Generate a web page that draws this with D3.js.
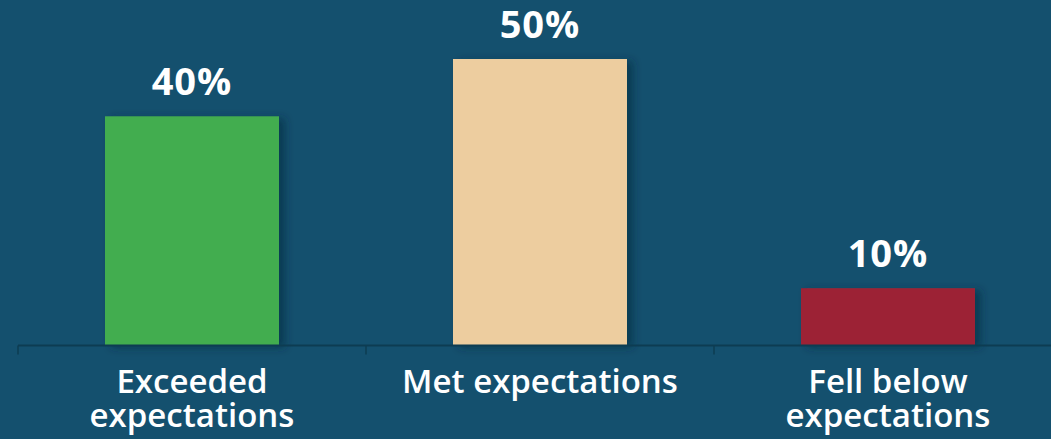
<!DOCTYPE html>
<html><head><meta charset="utf-8">
<script src="https://cdn.jsdelivr.net/npm/d3@7"></script>
<style>html,body{margin:0;padding:0;background:#14506e;overflow:hidden}</style>
</head><body>
<svg id="c" width="1051" height="439"></svg>
<script>
const categories = [["Exceeded","expectations"],["Met expectations"],["Fell below","expectations"]];
const values = [40, 50, 10];
const valueLabels = ["40%", "50%", "10%"];
const colors = ["#43ad4f", "#edcd9f", "#9c2336"];

const svg = d3.select("#c");
const W = 1051, H = 439;
svg.append("rect").attr("width", W).attr("height", H).attr("fill", "#14506e");

const defs = svg.append("defs");
const f = defs.append("filter").attr("id","sh").attr("x","-10%").attr("y","-10%").attr("width","130%").attr("height","130%");
f.append("feDropShadow").attr("dx",6).attr("dy",2).attr("stdDeviation",4).attr("flood-color","#06283a").attr("flood-opacity",0.55);

const idx = d3.range(values.length);
const x = d3.scaleBand().domain(idx).range([18, 1062]).paddingInner(0.5).paddingOuter(0.25);
const y = d3.scaleLinear().domain([0, 50]).range([345.5, 59]);

svg.append("g").selectAll("rect").data(idx).join("rect")
  .attr("x", i => x(i)).attr("width", x.bandwidth())
  .attr("y", i => y(values[i])).attr("height", i => y(0) - y(values[i]))
  .attr("fill", i => colors[i]).attr("filter","url(#sh)");

// axis
const axis = d3.axisBottom(x).tickSize(9).tickFormat("");
const gA = svg.append("g").attr("transform", `translate(0,${y(0)})`).call(axis);
gA.select(".domain").remove();
gA.selectAll(".tick").attr("transform", i => `translate(${x(i) - x.step()*x.paddingInner()/2},0)`);
gA.selectAll(".tick line").attr("stroke", "#0d3c52").attr("stroke-width", 1.5);
gA.append("line").attr("x1", 18).attr("x2", W).attr("y1", 0).attr("y2", 0).attr("stroke", "#0d3c52").attr("stroke-width", 2);

// value labels
svg.append("g").selectAll("text").data(idx).join("text")
  .attr("x", i => x(i) + x.bandwidth()/2).attr("y", i => y(values[i]) - 21)
  .attr("text-anchor","middle").attr("fill","#fff")
  .attr("font-family","'Open Sans', sans-serif").attr("font-weight",700).attr("font-size",38)
  .attr("letter-spacing", 1)
  .text(i => valueLabels[i]);

// category labels
const gC = svg.append("g").selectAll("text").data(idx).join("text")
  .attr("x", i => x(i) + x.bandwidth()/2).attr("y", 393)
  .attr("text-anchor","middle").attr("fill","#fff")
  .attr("font-family","'Open Sans', sans-serif").attr("font-weight",600).attr("font-size",33);
gC.selectAll("tspan").data(i => categories[i].map((t,k)=>({t,k,i}))).join("tspan")
  .attr("x", d => x(d.i) + x.bandwidth()/2).attr("dy", d => d.k ? 34 : 0).text(d => d.t);
</script>
</body></html>
